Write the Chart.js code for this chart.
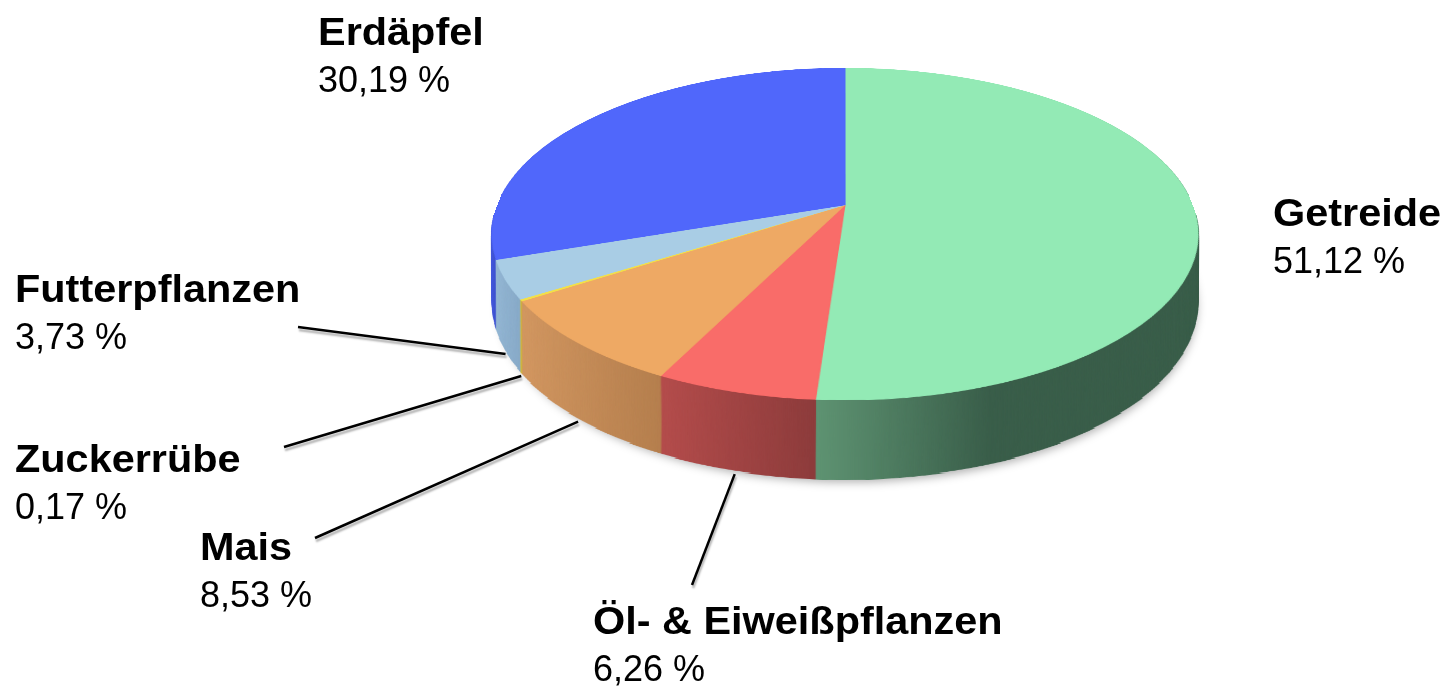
<!DOCTYPE html>
<html><head><meta charset="utf-8">
<script src="https://cdn.jsdelivr.net/npm/chart.js@4/dist/chart.umd.min.js"></script>
<style>html,body{margin:0;padding:0;background:#fff;overflow:hidden}canvas{display:block}</style>
</head><body>
<div style="width:1447px;height:687px;position:relative"><canvas id="c" width="1447" height="687"></canvas></div>
<script>
// ---- data ----
const categories = ['Getreide', 'Öl- & Eiweißpflanzen', 'Mais', 'Zuckerrübe', 'Futterpflanzen', 'Erdäpfel'];
const shares = [51.12, 6.26, 8.53, 0.17, 3.73, 30.19];
const shareLabels = ['51,12 %', '6,26 %', '8,53 %', '0,17 %', '3,73 %', '30,19 %'];

// ---- styles ----
const topColors = ['#93EAB5', '#F96C69', '#EEA964', '#F2E04A', '#A9CDE5', '#5067FB'];
const sideLight = ['#5E9372', '#B44D4C', '#D29761', '#D8C040', '#94B7D4', '#4A5FE6'];
const sideDark  = ['#3A5E4A', '#8D3C3C', '#B57F4E', '#C0A830', '#88AAC8', '#3F52D0'];

// ---- layout (perspective view of the pie disk) ----
const P = { cx: 845, apexY: 205, backY: 68, frontY: 400, halfW: 353, frontDepth: 80 };
const labelX = [1273, 593, 200, 15, 15, 318];
const nameBase = [226, 634, 560, 472, 302, 45];
const lineGap = 47;
const lineFrom = [null, [692, 585], [315, 538], [284, 447], [298, 327], null];

// projective mapping of disk coordinates (x in [-1,1], v in [-1 back, 1 front])
const pc = (P.frontY + P.backY - 2 * P.apexY) / (P.backY - P.frontY);
const pb = P.apexY;
const pa = P.frontY * (1 + pc) - pb;
const pk = P.halfW * Math.sqrt(1 - pc * pc);
const pD = P.frontDepth * (1 + pc);
const projY = v => (pa * v + pb) / (1 + pc * v);
const projS = v => pk / (1 + pc * v);
const depthAt = v => pD / (1 + pc * v);
const invY = Y => (Y - pb) / (pa - Y * pc);

const R0 = 420;
function renderDisk(chart, fillFor) {
  const meta = chart.getDatasetMeta(0);
  const a0 = meta.data[0];
  const R = a0.outerRadius, cx = a0.x, cy = a0.y;
  const cv = document.createElement('canvas');
  cv.width = 2 * R0; cv.height = 2 * R0;
  const ctx = cv.getContext('2d');
  const sc = R0 / R;
  ctx.setTransform(sc, 0, 0, sc, R0 - cx * sc, R0 - cy * sc);
  meta.data.forEach((arc, i) => {
    const orig = arc.options;
    const f = fillFor(ctx, arc, i, cx, R);
    arc.options = Object.assign({}, orig, { backgroundColor: f, borderColor: f, borderWidth: orig.borderWidth });
    arc.draw(ctx);
    arc.options = orig;
  });
  return cv;
}

const pie3d = {
  id: 'pie3d',
  beforeDatasetsDraw(chart) {
    const ctx = chart.ctx;
    const topDisk = renderDisk(chart, (c, arc, i) => topColors[i]);
    const sideDisk = renderDisk(chart, (c, arc, i, cx, R) => {
      let xmin = Infinity, xmax = -Infinity;
      for (let k = 0; k <= 80; k++) {
        const a = arc.startAngle + (arc.endAngle - arc.startAngle) * k / 80;
        if (Math.sin(a) >= -0.02) { xmin = Math.min(xmin, Math.cos(a)); xmax = Math.max(xmax, Math.cos(a)); }
      }
      if (!isFinite(xmin)) return sideDark[i];
      const span = Math.max(0.01, Math.min(0.42, xmax - xmin));
      const g = c.createLinearGradient(cx + xmin * R, 0, cx + (xmin + span) * R, 0);
      g.addColorStop(0, sideLight[i]);
      g.addColorStop(1, sideDark[i]);
      return g;
    });
    // soft shadow below the pie
    ctx.save();
    ctx.filter = 'blur(5px)';
    ctx.fillStyle = 'rgba(0,0,0,0.32)';
    ctx.beginPath();
    ctx.ellipse(P.cx + 3, (projY(-1) + depthAt(-1) + P.frontY + P.frontDepth) / 2 + 4, P.halfW - 4, (P.frontY + P.frontDepth - projY(-1) - depthAt(-1)) / 2 - 2, 0, 0, Math.PI * 2);
    ctx.fill();
    ctx.restore();
    ctx.save();
    ctx.imageSmoothingEnabled = true;
    const y0 = Math.floor(P.backY), y1 = Math.ceil(P.frontY);
    // side walls: each disk row stretched down by its depth, back to front
    for (let Y = y0; Y < y1; Y++) {
      const v0 = Math.max(-1, invY(Y)), v1 = Math.min(1, invY(Y + 1));
      if (v1 <= v0) continue;
      const vm = (v0 + v1) / 2, s = projS(vm);
      ctx.drawImage(sideDisk, 0, R0 * (1 + v0), 2 * R0, Math.max(0.5, R0 * (v1 - v0)), P.cx - s, Y, 2 * s, depthAt(vm) + 1);
    }
    // top surface
    for (let Y = y0; Y < y1; Y++) {
      const v0 = Math.max(-1, invY(Y)), v1 = Math.min(1, invY(Y + 1));
      if (v1 <= v0) continue;
      const vm = (v0 + v1) / 2, s = projS(vm);
      ctx.drawImage(topDisk, 0, R0 * (1 + v0), 2 * R0, Math.max(0.5, R0 * (v1 - v0)), P.cx - s, Y, 2 * s, 1);
    }
    ctx.restore();
    return false; // the flat default drawing is replaced by the projected one
  },
  afterDraw(chart) {
    const ctx = chart.ctx;
    const meta = chart.getDatasetMeta(0);
    // leader lines to the lower rim at each slice's mid angle
    meta.data.forEach((arc, i) => {
      if (!lineFrom[i]) return;
      const mid = (arc.startAngle + arc.endAngle) / 2;
      const v = Math.sin(mid), x = Math.cos(mid);
      const X = P.cx + x * projS(v);
      const Y = projY(v) + depthAt(v) + 3;
      ctx.save();
      ctx.strokeStyle = '#000';
      ctx.lineWidth = 2.5;
      ctx.shadowColor = 'rgba(0,0,0,0.3)';
      ctx.shadowBlur = 2;
      ctx.shadowOffsetX = 1;
      ctx.shadowOffsetY = 3;
      ctx.beginPath();
      ctx.moveTo(lineFrom[i][0], lineFrom[i][1]);
      ctx.lineTo(X, Y);
      ctx.stroke();
      ctx.restore();
    });
    // labels
    ctx.save();
    ctx.fillStyle = '#000';
    ctx.textBaseline = 'alphabetic';
    ctx.textAlign = 'left';
    categories.forEach((name, i) => {
      ctx.save();
      ctx.translate(labelX[i], nameBase[i]);
      ctx.scale(1.09, 1);
      ctx.font = 'bold 38px "Liberation Sans", Arial, sans-serif';
      ctx.fillText(name, 0, 0);
      ctx.restore();
      ctx.font = '36px "Liberation Sans", Arial, sans-serif';
      ctx.fillText(shareLabels[i], labelX[i], nameBase[i] + lineGap);
    });
    ctx.restore();
  }
};

new Chart(document.getElementById('c'), {
  type: 'pie',
  data: {
    labels: categories,
    datasets: [{
      data: shares,
      backgroundColor: topColors,
      borderColor: topColors,
      borderWidth: 1
    }]
  },
  options: {
    responsive: false,
    animation: false,
    events: [],
    layout: { padding: 0 },
    plugins: { legend: { display: false }, tooltip: { enabled: false } }
  },
  plugins: [pie3d]
});
</script>
</body></html>
